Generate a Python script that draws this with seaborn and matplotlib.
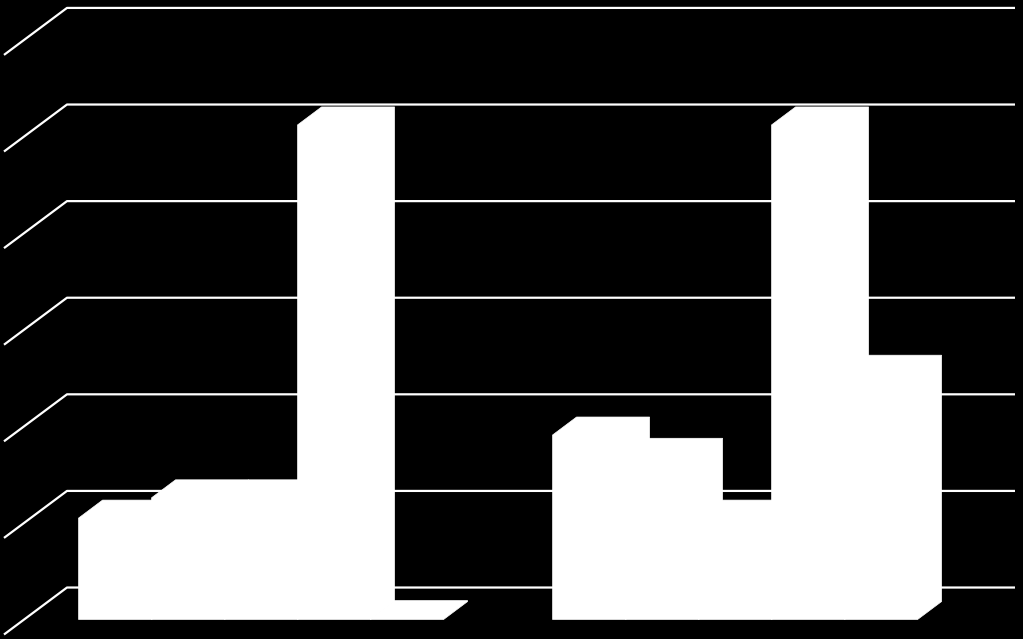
import pandas as pd
import matplotlib
matplotlib.use("Agg")
import matplotlib.pyplot as plt
from matplotlib.patches import Polygon
import seaborn as sns

# Dados (sem rótulos visíveis)
categorias = ["Grupo 1", "Grupo 2"]
series = ["Série 1", "Série 2", "Série 3", "Série 4", "Série 5"]
valores_grupo1 = [1.05, 1.26, 1.26, 5.12, 0.01]
valores_grupo2 = [1.91, 1.69, 1.05, 5.12, 2.55]
niveis_grade = [0, 1, 2, 3, 4, 5, 6]

df = pd.DataFrame({
    "categoria": [categorias[0]] * len(series) + [categorias[1]] * len(series),
    "serie": series + series,
    "valor": valores_grupo1 + valores_grupo2,
})

# Efeito 3D (em unidades dos dados)
parede_dx, parede_dy = 0.0905, 0.331   # deslocamento da parede do fundo
chao_dx, chao_dy = 0.1329, 0.4865      # profundidade total do piso
barra_dx, barra_dy = 0.0506, 0.186     # profundidade das colunas

sns.set_style("dark")
fig = plt.figure(figsize=(10.23, 6.39), dpi=100, facecolor="black")
ax = fig.add_axes([0, 0, 1, 1])
ax.set_facecolor("black")

# Linhas de grade na parede do fundo e na parede lateral
for v in niveis_grade:
    x_fundo = -0.5 + parede_dx
    y_fundo = v + parede_dy
    ax.plot([x_fundo - chao_dx, x_fundo, 1.5 + parede_dx],
            [y_fundo - chao_dy, y_fundo, y_fundo],
            color="white", lw=1.6, solid_capstyle="butt", zorder=1)

sns.barplot(data=df, x="categoria", y="valor", hue="serie",
            palette=["white"] * len(series), saturation=1, width=0.77,
            linewidth=0, legend=False, ax=ax, zorder=2)

# Topo e lateral das colunas a partir das barras desenhadas
for p in list(ax.patches):
    x0 = p.get_x()
    x1 = x0 + p.get_width()
    h = p.get_height()
    pts = [(x0, 0), (x1, 0), (x1 + barra_dx, barra_dy),
           (x1 + barra_dx, h + barra_dy), (x0 + barra_dx, h + barra_dy), (x0, h)]
    ax.add_patch(Polygon(pts, closed=True, facecolor="white",
                         edgecolor="white", lw=0.5, zorder=2))

ax.set_xlim(-0.5508, 1.6074)
ax.set_ylim(-0.2019, 6.413)
ax.set_axis_off()

fig.savefig("out.png", dpi=100, facecolor="black")
